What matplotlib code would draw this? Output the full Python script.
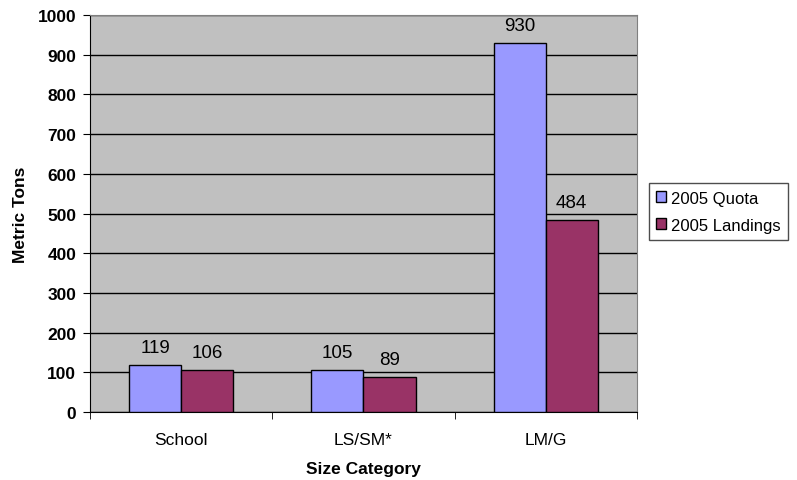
import numpy as np
import matplotlib.pyplot as plt
from matplotlib.ticker import FixedLocator

plt.rcParams['font.family'] = ['Liberation Sans', 'DejaVu Sans']

categories = ['School', 'LS/SM*', 'LM/G']
quota = [119, 105, 930]
landings = [106, 89, 484]
yticks = [0, 100, 200, 300, 400, 500, 600, 700, 800, 900, 1000]

fig = plt.figure(figsize=(7.97, 4.81), dpi=100)
ax = fig.add_axes([0.113, 0.141, 0.686, 0.826])
ax.set_facecolor('#C0C0C0')

x = np.arange(len(categories))
w = 0.286
b1 = ax.bar(x - w / 2, quota, w, color='#9999FF', edgecolor='black', linewidth=1, label='2005 Quota', zorder=3)
b2 = ax.bar(x + w / 2, landings, w, color='#993366', edgecolor='black', linewidth=1, label='2005 Landings', zorder=3)

# value labels over each bar
for bars, vals in ((b1, quota), (b2, landings)):
    for r, v in zip(bars, vals):
        ax.annotate(str(v), (r.get_x() + r.get_width() / 2, v), xytext=(0, 6.5), textcoords='offset points',
                    ha='center', va='bottom', fontsize=13.5, zorder=4)

ax.set_xlim(-0.5, len(categories) - 0.5)
ax.set_ylim(0, 1000)
ax.set_yticks(yticks)
ax.set_yticklabels([str(t) for t in yticks], fontweight='bold', fontsize=12.5)
ax.yaxis.grid(True, color='black', linewidth=1, zorder=1)
ax.set_xticks(x)
ax.set_xticklabels(categories, fontsize=12.5)
ax.tick_params(axis='x', length=0, pad=14)
ax.xaxis.set_minor_locator(FixedLocator(np.arange(-0.5, len(categories), 1.0)))
ax.tick_params(axis='x', which='minor', length=5, color='black')
ax.tick_params(axis='y', length=5, color='black', pad=5)

for s in ['top', 'right']:
    ax.spines[s].set_color('#808080')
for s in ['left', 'bottom']:
    ax.spines[s].set_color('black')

ax.set_xlabel('Size Category', fontweight='bold', fontsize=12.5, labelpad=10)
ax.set_ylabel('Metric Tons', fontweight='bold', fontsize=12.5, labelpad=7)

leg = ax.legend(loc='center left', bbox_to_anchor=(1.022, 0.505), fontsize=12, frameon=True,
                fancybox=False, edgecolor='#202020', handlelength=0.6, handleheight=0.6,
                handletextpad=0.3, borderpad=0.45, labelspacing=0.72, borderaxespad=0)
leg.get_frame().set_linewidth(1)

fig.savefig('out.png', dpi=100)
